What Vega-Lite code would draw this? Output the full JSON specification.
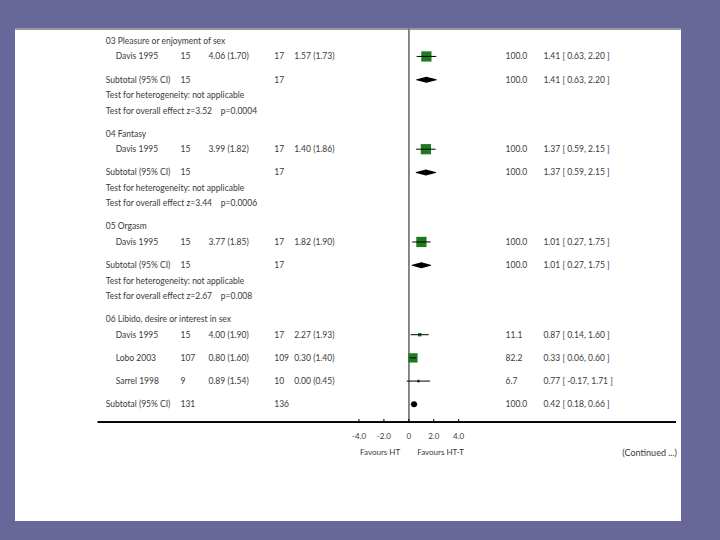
{
  "$schema": "https://vega.github.io/schema/vega-lite/v6.json",
  "width": 720,
  "height": 540,
  "autosize": {"type": "fit", "contains": "padding"},
  "padding": {"left": 14, "top": 27, "right": 38, "bottom": 19},
  "background": "#67679a",
  "config": {
    "view": {"stroke": null, "fill": "white"},
    "text": {"font": "Lato", "fontSize": 8.5, "color": "#3a3a3a", "baseline": "middle", "align": "left"}
  },
  "datasets": {
    "rows": [
      {"pos": 0, "kind": "header", "label": "03 Pleasure or enjoyment of sex"},
      {"pos": 2, "kind": "study", "label": "Davis 1995", "n1": 15, "ms1": "4.06 (1.70)", "n2": 17, "ms2": "1.57 (1.73)", "weight": 100, "ci": "1.41 [ 0.63, 2.20 ]", "est": 1.41, "lo": 0.63, "hi": 2.20},
      {"pos": 5, "kind": "subtotal", "label": "Subtotal (95% CI)", "n1": 15, "n2": 17, "weight": 100, "ci": "1.41 [ 0.63, 2.20 ]", "est": 1.41, "lo": 0.63, "hi": 2.20},
      {"pos": 7, "kind": "note", "label": "Test for heterogeneity: not applicable"},
      {"pos": 9, "kind": "note", "label": "Test for overall effect z=3.52\u00a0\u00a0\u00a0\u00a0p=0.0004"},
      {"pos": 12, "kind": "header", "label": "04 Fantasy"},
      {"pos": 14, "kind": "study", "label": "Davis 1995", "n1": 15, "ms1": "3.99 (1.82)", "n2": 17, "ms2": "1.40 (1.86)", "weight": 100, "ci": "1.37 [ 0.59, 2.15 ]", "est": 1.37, "lo": 0.59, "hi": 2.15},
      {"pos": 17, "kind": "subtotal", "label": "Subtotal (95% CI)", "n1": 15, "n2": 17, "weight": 100, "ci": "1.37 [ 0.59, 2.15 ]", "est": 1.37, "lo": 0.59, "hi": 2.15},
      {"pos": 19, "kind": "note", "label": "Test for heterogeneity: not applicable"},
      {"pos": 21, "kind": "note", "label": "Test for overall effect z=3.44\u00a0\u00a0\u00a0\u00a0p=0.0006"},
      {"pos": 24, "kind": "header", "label": "05 Orgasm"},
      {"pos": 26, "kind": "study", "label": "Davis 1995", "n1": 15, "ms1": "3.77 (1.85)", "n2": 17, "ms2": "1.82 (1.90)", "weight": 100, "ci": "1.01 [ 0.27, 1.75 ]", "est": 1.01, "lo": 0.27, "hi": 1.75},
      {"pos": 29, "kind": "subtotal", "label": "Subtotal (95% CI)", "n1": 15, "n2": 17, "weight": 100, "ci": "1.01 [ 0.27, 1.75 ]", "est": 1.01, "lo": 0.27, "hi": 1.75},
      {"pos": 31, "kind": "note", "label": "Test for heterogeneity: not applicable"},
      {"pos": 33, "kind": "note", "label": "Test for overall effect z=2.67\u00a0\u00a0\u00a0\u00a0p=0.008"},
      {"pos": 36, "kind": "header", "label": "06 Libido, desire or interest in sex"},
      {"pos": 38, "kind": "study", "label": "Davis 1995", "n1": 15, "ms1": "4.00 (1.90)", "n2": 17, "ms2": "2.27 (1.93)", "weight": 11.1, "ci": "0.87 [ 0.14, 1.60 ]", "est": 0.87, "lo": 0.14, "hi": 1.60},
      {"pos": 41, "kind": "study", "label": "Lobo 2003", "n1": 107, "ms1": "0.80 (1.60)", "n2": 109, "ms2": "0.30 (1.40)", "weight": 82.2, "ci": "0.33 [ 0.06, 0.60 ]", "est": 0.33, "lo": 0.06, "hi": 0.60},
      {"pos": 44, "kind": "study", "label": "Sarrel 1998", "n1": 9, "ms1": "0.89 (1.54)", "n2": 10, "ms2": "0.00 (0.45)", "weight": 6.7, "ci": "0.77 [ -0.17, 1.71 ]", "est": 0.77, "lo": -0.17, "hi": 1.71},
      {"pos": 47, "kind": "subtotal", "label": "Subtotal (95% CI)", "n1": 131, "n2": 136, "weight": 100, "ci": "0.42 [ 0.18, 0.66 ]", "est": 0.42, "lo": 0.18, "hi": 0.66}
    ],
    "ticks": [
      {"t": -4, "lab": "-4.0"},
      {"t": -2, "lab": "-2.0"},
      {"t": 0, "lab": "0"},
      {"t": 2, "lab": "2.0"},
      {"t": 4, "lab": "4.0"}
    ],
    "favours": [
      {"x": -2.3, "lab": "Favours HT"},
      {"x": 2.55, "lab": "Favours HT-T"}
    ]
  },
  "layer": [
    {
      "data": {"name": "ticks"},
      "mark": {"type": "rule", "color": "#9a9a9a", "strokeWidth": 1.5},
      "encoding": {
        "y": {"datum": -1.55, "type": "quantitative", "scale": {"domain": [-1.679, 62.1], "reverse": true, "nice": false, "zero": false}, "axis": null}
      }
    },
    {
      "data": {"name": "ticks"},
      "mark": {"type": "rule", "color": "#808080", "strokeWidth": 1},
      "encoding": {
        "x": {"datum": 0, "type": "quantitative", "scale": {"domain": [-31.6, 21.84], "nice": false, "zero": false}, "axis": null},
        "y": {"datum": -1.679, "type": "quantitative", "axis": null},
        "y2": {"datum": 49.3}
      }
    },
    {
      "data": {"name": "ticks"},
      "mark": {"type": "rule", "color": "black", "strokeWidth": 1},
      "encoding": {
        "x": {"datum": -24.96, "type": "quantitative", "axis": null},
        "x2": {"datum": 21.44},
        "y": {"datum": 49.3, "type": "quantitative", "axis": null}
      }
    },
    {
      "data": {"name": "ticks"},
      "mark": {"type": "rule", "color": "black", "strokeWidth": 1},
      "encoding": {
        "x": {"field": "t", "type": "quantitative", "axis": null},
        "y": {"datum": 48.9, "type": "quantitative", "axis": null},
        "y2": {"datum": 49.3}
      }
    },
    {
      "data": {"name": "ticks"},
      "mark": {"type": "text", "align": "center", "fontSize": 8},
      "encoding": {
        "x": {"field": "t", "type": "quantitative", "axis": null},
        "y": {"datum": 51.2, "type": "quantitative", "axis": null},
        "text": {"field": "lab"}
      }
    },
    {
      "data": {"name": "favours"},
      "mark": {"type": "text", "align": "center", "fontSize": 8},
      "encoding": {
        "x": {"field": "x", "type": "quantitative", "axis": null},
        "y": {"datum": 53.3, "type": "quantitative", "axis": null},
        "text": {"field": "lab"}
      }
    },
    {
      "data": {"values": [{"lab": "(Continued ...)"}]},
      "mark": {"type": "text", "align": "right", "fontSize": 9},
      "encoding": {
        "x": {"datum": 21.52, "type": "quantitative", "axis": null},
        "y": {"datum": 53.3, "type": "quantitative", "axis": null},
        "text": {"field": "lab"}
      }
    },
    {
      "data": {"name": "rows"},
      "transform": [{"filter": "datum.kind === 'study'"}],
      "mark": {"type": "point", "shape": "square", "filled": true, "color": "#1e7b1e", "opacity": 1},
      "encoding": {
        "x": {"field": "est", "type": "quantitative", "axis": null},
        "y": {"field": "pos", "type": "quantitative", "axis": null},
        "size": {"field": "weight", "type": "quantitative", "scale": {"domain": [0, 100], "range": [0, 105]}, "legend": null}
      }
    },
    {
      "data": {"name": "rows"},
      "transform": [{"filter": "datum.kind === 'study'"}],
      "mark": {"type": "rule", "color": "black", "strokeWidth": 1},
      "encoding": {
        "x": {"field": "lo", "type": "quantitative", "axis": null},
        "x2": {"field": "hi"},
        "y": {"field": "pos", "type": "quantitative", "axis": null}
      }
    },
    {
      "data": {"name": "rows"},
      "transform": [
        {"filter": "datum.kind === 'subtotal'"},
        {"fold": ["lo", "est", "hi"], "as": ["key", "val"]}
      ],
      "mark": {"type": "trail", "color": "black"},
      "encoding": {
        "x": {"field": "val", "type": "quantitative", "axis": null},
        "y": {"field": "pos", "type": "quantitative", "axis": null},
        "detail": {"field": "pos"},
        "size": {"condition": {"test": "datum.key === 'est'", "value": 6}, "value": 0}
      }
    },
    {
      "data": {"name": "rows"},
      "transform": [{"filter": "datum.kind !== 'study'"}],
      "mark": {"type": "text"},
      "encoding": {
        "x": {"datum": -24.32, "type": "quantitative", "axis": null},
        "y": {"field": "pos", "type": "quantitative", "axis": null},
        "text": {"field": "label"}
      }
    },
    {
      "data": {"name": "rows"},
      "transform": [{"filter": "datum.kind === 'study'"}],
      "mark": {"type": "text"},
      "encoding": {
        "x": {"datum": -23.52, "type": "quantitative", "axis": null},
        "y": {"field": "pos", "type": "quantitative", "axis": null},
        "text": {"field": "label"}
      }
    },
    {
      "data": {"name": "rows"},
      "transform": [{"filter": "isValid(datum.n1)"}],
      "mark": {"type": "text"},
      "encoding": {
        "x": {"datum": -18.32, "type": "quantitative", "axis": null},
        "y": {"field": "pos", "type": "quantitative", "axis": null},
        "text": {"field": "n1"}
      }
    },
    {
      "data": {"name": "rows"},
      "transform": [{"filter": "isValid(datum.ms1)"}],
      "mark": {"type": "text"},
      "encoding": {
        "x": {"datum": -16.08, "type": "quantitative", "axis": null},
        "y": {"field": "pos", "type": "quantitative", "axis": null},
        "text": {"field": "ms1"}
      }
    },
    {
      "data": {"name": "rows"},
      "transform": [{"filter": "isValid(datum.n2)"}],
      "mark": {"type": "text"},
      "encoding": {
        "x": {"datum": -10.8, "type": "quantitative", "axis": null},
        "y": {"field": "pos", "type": "quantitative", "axis": null},
        "text": {"field": "n2"}
      }
    },
    {
      "data": {"name": "rows"},
      "transform": [{"filter": "isValid(datum.ms2)"}],
      "mark": {"type": "text"},
      "encoding": {
        "x": {"datum": -9.2, "type": "quantitative", "axis": null},
        "y": {"field": "pos", "type": "quantitative", "axis": null},
        "text": {"field": "ms2"}
      }
    },
    {
      "data": {"name": "rows"},
      "transform": [{"filter": "isValid(datum.weight)"}],
      "mark": {"type": "text"},
      "encoding": {
        "x": {"datum": 7.76, "type": "quantitative", "axis": null},
        "y": {"field": "pos", "type": "quantitative", "axis": null},
        "text": {"field": "weight", "format": ".1f"}
      }
    },
    {
      "data": {"name": "rows"},
      "transform": [{"filter": "isValid(datum.ci)"}],
      "mark": {"type": "text"},
      "encoding": {
        "x": {"datum": 10.8, "type": "quantitative", "axis": null},
        "y": {"field": "pos", "type": "quantitative", "axis": null},
        "text": {"field": "ci"}
      }
    }
  ]
}
